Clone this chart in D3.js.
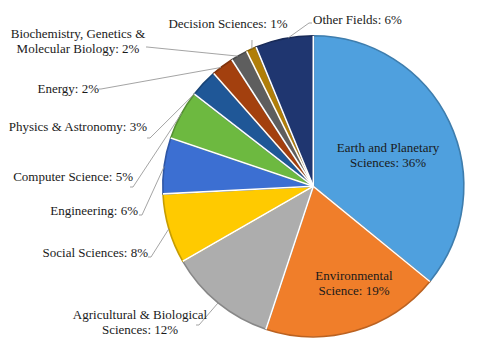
<!DOCTYPE html>
<html><head><meta charset="utf-8">
<script src="https://cdn.jsdelivr.net/npm/d3@7"></script>
<style>html,body{margin:0;padding:0;background:#fff;}svg{display:block;}
.lbl{font-family:"Liberation Serif","Tinos","Times New Roman","DejaVu Serif",serif;font-size:13px;fill:#1a1a1a;}</style>
</head><body>
<svg id="chart" width="480" height="347"></svg>
<script>
// ---- data ----
const categories = ["Earth and Planetary Sciences","Environmental Science","Agricultural & Biological Sciences","Social Sciences","Engineering","Computer Science","Physics & Astronomy","Energy","Biochemistry, Genetics & Molecular Biology","Decision Sciences","Other Fields"];
const shares = [35.9, 19.2, 11.6, 7.5, 6.0, 5.3, 3.0, 2.4, 1.8, 1.1, 6.2];
const labelLines = [
  ["Earth and Planetary","Sciences: 36%"],
  ["Environmental","Science: 19%"],
  ["Agricultural & Biological","Sciences: 12%"],
  ["Social Sciences: 8%"],
  ["Engineering: 6%"],
  ["Computer Science: 5%"],
  ["Physics & Astronomy: 3%"],
  ["Energy: 2%"],
  ["Biochemistry, Genetics &","Molecular Biology: 2%"],
  ["Decision Sciences: 1%"],
  ["Other Fields: 6%"]
];
const colors = ["#4FA0DE","#F07E2A","#ADADAD","#FFCA00","#3C6FD2","#6DB940","#1F5797","#A3400E","#5E5E5E","#B07E08","#1F3670"];

// ---- layout (positions only) ----
const cx = 313.3, cy = 186.3, R = 150.5;
const layout = [
  {x:388, y:147, a:"middle"},
  {x:354, y:275, a:"middle"},
  {x:140, y:314, a:"middle", stub:[196,325], start:[199,325], t:0.5},
  {x:148, y:252, a:"end", stub:[148,257], start:[151,257], t:0.5},
  {x:138, y:210, a:"end", stub:[139,215], start:[142,215], t:0.48},
  {x:133, y:176, a:"end", stub:[130,187], start:[133,187], t:0.54},
  {x:147, y:126, a:"end", stub:[147,138], start:[150,138], t:0.04},
  {x:99, y:88, a:"end", stub:[99,89], start:[101,89], t:0.41},
  {x:78, y:33, a:"middle", stub:[146,47], start:[147,47], t:0.41},
  {x:228, y:23, a:"middle", stub:[252,40], start:[252,40], t:0.55},
  {x:313, y:19, a:"start", stub:[312,23], start:[309,23], t:0.57}
];

const data = categories.map((c,i)=>({name:c, value:shares[i], color:colors[i], lines:labelLines[i], L:layout[i]}));

const svg = d3.select("#chart");
const g = svg.append("g").attr("transform",`translate(${cx},${cy})`);

const pie = d3.pie().value(d=>d.value).sort(null);
const arcs = pie(data);
const arc = d3.arc().innerRadius(0).outerRadius(R);

g.selectAll("path.slice").data(arcs).enter().append("path")
  .attr("class","slice")
  .attr("d",arc)
  .attr("fill",d=>d.data.color)
  .attr("stroke",d=>d3.color(d.data.color).darker(0.7))
  .attr("stroke-width",1.6)
  .attr("stroke-linejoin","round");

g.selectAll("line.sep").data(arcs).enter().append("line")
  .attr("class","sep")
  .attr("x1",0).attr("y1",0)
  .attr("x2",d=>R*Math.sin(d.startAngle)).attr("y2",d=>-R*Math.cos(d.startAngle))
  .attr("stroke","#fff").attr("stroke-width",1.6);

const leaders = svg.append("g");
arcs.forEach(d=>{
  const L = d.data.L;
  if(!L.start) return;
  const ang = d.startAngle + (d.endAngle-d.startAngle)*L.t;
  const ex = cx + R*Math.sin(ang), ey = cy - R*Math.cos(ang);
  leaders.append("polyline")
    .attr("points",[L.stub, L.start, [ex,ey]].map(p=>p.join(",")).join(" "))
    .attr("fill","none").attr("stroke","#9a9a9a").attr("stroke-width",0.9);
});

const labels = svg.append("g");
data.forEach(d=>{
  const L = d.L;
  const t = labels.append("text").attr("class","lbl").attr("text-anchor",L.a);
  d.lines.forEach((ln,j)=>{
    t.append("tspan").attr("x",L.x).attr("y",L.y + j*15).attr("dy","0.35em").text(ln);
  });
});
</script>
</body></html>
